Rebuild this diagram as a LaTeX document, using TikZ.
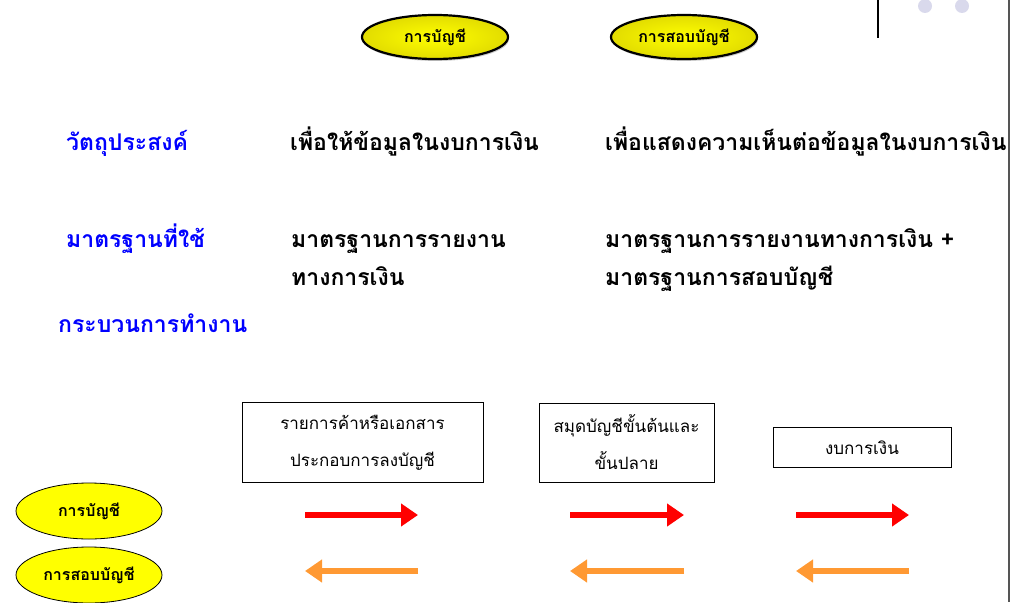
\documentclass[tikz,border=0pt]{standalone}
\usepackage{fontspec}
\newfontfamily\thai[Script=Thai]{Loma}
\usetikzlibrary{arrows.meta,shapes.geometric,shadows}
\definecolor{lblblue}{HTML}{0000FF}
\definecolor{ellyellow}{HTML}{FFFF00}
\definecolor{ellshade}{HTML}{E2DC00}
\definecolor{arrred}{HTML}{FF0000}
\definecolor{arrorange}{HTML}{FF9933}
\definecolor{dotgray}{HTML}{D9D9EC}
\definecolor{edgegray}{HTML}{555555}
\begin{document}
\begin{tikzpicture}[x=1pt,y=-1pt,
  rowlabel/.style={anchor=base west, inner sep=0pt, text=lblblue,
    font=\thai\bfseries\fontsize{23}{27}\selectfont},
  rowtext/.style={anchor=base west, inner sep=0pt,
    font=\thai\bfseries\fontsize{23}{27}\selectfont},
  topell/.style={ellipse, draw=black, line width=2.2pt, inner color=ellyellow,
    outer color=ellshade, minimum width=146pt, minimum height=44pt, inner sep=0pt,
    font=\thai\bfseries\fontsize{16}{18}\selectfont,
    drop shadow={opacity=0.4, shadow xshift=1pt, shadow yshift=-2pt}},
  sideell/.style={ellipse, draw=black, line width=0.8pt, fill=ellyellow,
    minimum width=146pt, minimum height=56pt, inner sep=0pt,
    font=\thai\bfseries\fontsize{16}{18}\selectfont},
  stagebox/.style={rectangle, draw=black, line width=0.9pt, align=center,
    inner sep=0pt, font=\thai\fontsize{17}{37}\selectfont},
  fwdarrow/.style={draw=arrred, line width=6pt,
    -{Triangle[length=17pt,width=22pt]}},
  backarrow/.style={draw=arrorange, line width=6pt,
    -{Triangle[length=17pt,width=22pt]}}
]
\useasboundingbox (0,0) rectangle (1019,602);

% decorations at the top right
\fill[dotgray] (925,6) circle (7pt);
\fill[dotgray] (962,6) circle (7pt);
\draw[black, line width=2pt] (878,0) -- (878,38);
\draw[edgegray, line width=2pt] (1009,0) -- (1009,602);

% top ellipses
\node[topell] (topacc) at (435,37) {การบัญชี};
\node[topell] (topaud) at (684,37) {การสอบบัญชี};

% row 1
\node[rowlabel] (obj) at (66,150) {วัตถุประสงค์};
\node[rowtext] (objacc) at (290,150) {เพื่อให้ข้อมูลในงบการเงิน};
\begin{scope}
  \clip (0,0) rectangle (1008,602);
  \node[rowtext] (objaud) at (605,150) {เพื่อแสดงความเห็นต่อข้อมูลในงบการเงิน};
\end{scope}

% row 2
\node[rowlabel] (std) at (66,247) {มาตรฐานที่ใช้};
\node[rowtext] (stdacc1) at (291,247) {มาตรฐานการรายงาน};
\node[rowtext] (stdacc2) at (291,285) {ทางการเงิน};
\node[rowtext] (stdaud1) at (605,247) {มาตรฐานการรายงานทางการเงิน +};
\node[rowtext] (stdaud2) at (605,285) {มาตรฐานการสอบบัญชี};

% row 3
\node[rowlabel] (proc) at (58,332) {กระบวนการทำงาน};

% stage boxes
\node[stagebox, minimum width=241pt, minimum height=80pt] (doc) at (362.5,442.5)
  {รายการค้าหรือเอกสาร\\ประกอบการลงบัญชี};
\node[stagebox, minimum width=175pt, minimum height=79pt] (book) at (626.5,442.5)
  {สมุดบัญชีขั้นต้นและ\\ขั้นปลาย};
\node[stagebox, minimum width=178pt, minimum height=40pt] (fs) at (862,447.5)
  {งบการเงิน};

% side ellipses
\node[sideell] (sideacc) at (89,511) {การบัญชี};
\node[sideell] (sideaud) at (89,575) {การสอบบัญชี};

% arrows
\coordinate (a1s) at (305,515); \coordinate (a1e) at (418,515);
\coordinate (a2s) at (570,515); \coordinate (a2e) at (684,515);
\coordinate (a3s) at (796,515); \coordinate (a3e) at (909,515);
\coordinate (b1s) at (418,571); \coordinate (b1e) at (305,571);
\coordinate (b2s) at (684,571); \coordinate (b2e) at (570,571);
\coordinate (b3s) at (909,571); \coordinate (b3e) at (796,571);
\draw[fwdarrow] (a1s) -- (a1e);
\draw[fwdarrow] (a2s) -- (a2e);
\draw[fwdarrow] (a3s) -- (a3e);
\draw[backarrow] (b1s) -- (b1e);
\draw[backarrow] (b2s) -- (b2e);
\draw[backarrow] (b3s) -- (b3e);
\end{tikzpicture}
\end{document}
